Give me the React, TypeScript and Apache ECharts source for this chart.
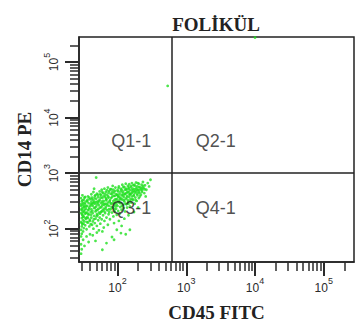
import React, { useEffect, useRef } from "react";
import * as echarts from "echarts";

// Axis ranges in log10 units (biexponential-like display window)
const cd45Range: [number, number] = [1.44, 5.44];
const cd14Range: [number, number] = [1.4, 5.45];

// Decade exponents shown as tick labels
const xDecades = [2, 3, 4, 5];
const yDecades = [2, 3, 4, 5];
const minorDecades = [1, 2, 3, 4, 5];
const minorMultipliers = [2, 3, 4, 5, 6, 7, 8, 9];

// Quadrant gates (log10 units)
const gateCD45 = 2.79;
const gateCD14 = 3;

const quadrantLabels = ["Q1-1", "Q2-1", "Q3-1", "Q4-1"];
const quadrantLabelX = [2.2, 3.43, 2.2, 3.43];
const quadrantLabelY = [3.58, 3.58, 2.37, 2.37];

// Events: [log10 CD45 FITC, log10 CD14 PE]
const events: [number, number][] = [
  [1.47, 2.55], [1.47, 2.41], [1.47, 2.28], [1.47, 2.12], [1.47, 1.98], [1.47, 1.86],
  [1.48, 2.49], [1.48, 2.33], [1.48, 2.19], [1.48, 2.04], [1.48, 1.91], [1.49, 2.6],
  [1.49, 2.37], [1.49, 2.24], [1.49, 2.08], [1.5, 2.46], [1.5, 2.3], [1.5, 2.15],
  [1.5, 1.95], [1.51, 2.52], [1.51, 2.39], [1.51, 2.22], [1.51, 2.01], [1.52, 2.34],
  [1.52, 2.13], [1.53, 2.57], [1.53, 2.44], [1.53, 2.27], [1.53, 2.06], [1.54, 2.18],
  [1.54, 2.36], [1.55, 2.5], [1.55, 2.29], [1.55, 1.99], [1.56, 2.41], [1.56, 2.21],
  [1.57, 2.11], [1.57, 2.58], [1.57, 2.33], [1.58, 2.46], [1.58, 2.25], [1.59, 2.04],
  [1.59, 2.38], [1.6, 2.53], [1.6, 2.16], [1.61, 2.3], [1.61, 2.44],
  [1.47, 1.72], [1.48, 1.63], [1.5, 1.8], [1.52, 1.69], [1.47, 1.55], [1.55, 1.86],
  [1.58, 1.76], [1.6, 1.9],
  [1.62, 2.62], [1.62, 2.48], [1.62, 2.35], [1.62, 2.2], [1.63, 2.07], [1.63, 2.56],
  [1.64, 2.41], [1.64, 2.28], [1.64, 2.13], [1.65, 2.66], [1.65, 2.51], [1.65, 2.0],
  [1.66, 2.37], [1.66, 2.23], [1.67, 2.59], [1.67, 2.45], [1.67, 2.1], [1.68, 2.31],
  [1.68, 2.18], [1.69, 2.54], [1.69, 2.4], [1.7, 2.63], [1.7, 2.26], [1.7, 2.05],
  [1.71, 2.49], [1.71, 2.34], [1.72, 2.15], [1.72, 2.57], [1.73, 2.42], [1.73, 2.29],
  [1.74, 2.67], [1.74, 2.52], [1.74, 2.2], [1.75, 2.38], [1.75, 2.09], [1.76, 2.6],
  [1.76, 2.46],
  [1.64, 1.88], [1.7, 1.93], [1.68, 1.78], [1.73, 1.97], [1.66, 2.72],
  [1.77, 2.31], [1.77, 2.7], [1.77, 2.17], [1.78, 2.55], [1.78, 2.42], [1.79, 2.24],
  [1.79, 2.64], [1.8, 2.5], [1.8, 2.36], [1.81, 2.72], [1.81, 2.14], [1.82, 2.58],
  [1.82, 2.45], [1.82, 2.28], [1.83, 2.66], [1.83, 2.39], [1.84, 2.53], [1.84, 2.2],
  [1.85, 2.61], [1.85, 2.33], [1.86, 2.47], [1.86, 2.74], [1.87, 2.26], [1.87, 2.56],
  [1.88, 2.41], [1.88, 2.68], [1.89, 2.17], [1.89, 2.51], [1.9, 2.35], [1.9, 2.63],
  [1.8, 2.02], [1.86, 2.07], [1.78, 1.95], [1.84, 1.74], [1.92, 1.85],
  [1.91, 2.45], [1.91, 2.71], [1.92, 2.29], [1.92, 2.57], [1.93, 2.77], [1.93, 2.38],
  [1.94, 2.5], [1.94, 2.22], [1.95, 2.65], [1.95, 2.43], [1.96, 2.31], [1.96, 2.59],
  [1.97, 2.74], [1.97, 2.47], [1.98, 2.36], [1.98, 2.62], [1.99, 2.25], [1.99, 2.53],
  [2.0, 2.69], [2.0, 2.41], [2.01, 2.57], [2.01, 2.32], [2.02, 2.76], [2.02, 2.48],
  [2.03, 2.63], [2.03, 2.27], [2.04, 2.39], [2.04, 2.55],
  [1.95, 2.1], [2.02, 2.14], [1.99, 1.98], [2.06, 2.05],
  [2.05, 2.72], [2.05, 2.46], [2.06, 2.6], [2.06, 2.34], [2.07, 2.79], [2.07, 2.52],
  [2.08, 2.43], [2.08, 2.67], [2.09, 2.57], [2.09, 2.37], [2.1, 2.75], [2.1, 2.49],
  [2.11, 2.63], [2.11, 2.31], [2.12, 2.54], [2.12, 2.81], [2.13, 2.44], [2.13, 2.7],
  [2.14, 2.59], [2.14, 2.38], [2.15, 2.77], [2.15, 2.51], [2.16, 2.66], [2.16, 2.45],
  [2.17, 2.57], [2.17, 2.8], [2.18, 2.4], [2.18, 2.69], [2.19, 2.53], [2.19, 2.62],
  [2.1, 2.18], [2.16, 2.24], [2.12, 1.9],
  [2.2, 2.74], [2.2, 2.47], [2.21, 2.82], [2.21, 2.58], [2.22, 2.66], [2.23, 2.52],
  [2.23, 2.78], [2.24, 2.61], [2.25, 2.71], [2.25, 2.45], [2.26, 2.56], [2.27, 2.83],
  [2.27, 2.67], [2.28, 2.5], [2.29, 2.76], [2.29, 2.6], [2.3, 2.7], [2.31, 2.55],
  [2.31, 2.81], [2.32, 2.64], [2.33, 2.74],
  [2.24, 2.3], [2.3, 2.38],
  [2.34, 2.61], [2.35, 2.79], [2.36, 2.69], [2.37, 2.84], [2.38, 2.73], [2.39, 2.64],
  [2.4, 2.78], [2.42, 2.7], [2.44, 2.82], [2.46, 2.76],
  [2.48, 2.88], [2.41, 2.58],
  [1.475, 2.35], [1.485, 2.26], [1.495, 2.43], [1.505, 2.09], [1.515, 2.31], [1.525, 2.47],
  [1.535, 2.19], [1.545, 2.4], [1.555, 2.12], [1.565, 2.52], [1.575, 2.27], [1.585, 2.35],
  [1.595, 2.14], [1.605, 2.41], [1.615, 2.25], [1.625, 2.53], [1.635, 2.32], [1.645, 2.46],
  [1.655, 2.17], [1.665, 2.55], [1.675, 2.38], [1.685, 2.48], [1.695, 2.22], [1.705, 2.44],
  [1.715, 2.61], [1.725, 2.36], [1.735, 2.5], [1.745, 2.27], [1.755, 2.56], [1.765, 2.39],
  [1.775, 2.49], [1.785, 2.33], [1.795, 2.58], [1.805, 2.43], [1.815, 2.62], [1.825, 2.36],
  [1.835, 2.51], [1.845, 2.69], [1.855, 2.42], [1.865, 2.58], [1.875, 2.35], [1.885, 2.49],
  [1.895, 2.71], [1.905, 2.55], [1.915, 2.39], [1.925, 2.66], [1.935, 2.46], [1.945, 2.59],
  [1.955, 2.35], [1.965, 2.68], [1.975, 2.53], [1.985, 2.44], [1.995, 2.61], [2.005, 2.49],
  [2.015, 2.73], [2.025, 2.58], [2.035, 2.46], [2.045, 2.67], [2.055, 2.54], [2.065, 2.41],
  [2.075, 2.64], [2.085, 2.75], [2.095, 2.51], [2.105, 2.62], [2.115, 2.45], [2.125, 2.72],
  [2.135, 2.56], [2.145, 2.66], [2.155, 2.48], [2.165, 2.74], [2.175, 2.61], [2.185, 2.5],
  [2.195, 2.77], [2.205, 2.64], [2.215, 2.53], [2.225, 2.72], [2.235, 2.59], [2.245, 2.79],
  [2.255, 2.65], [2.265, 2.51], [2.275, 2.73], [2.285, 2.63], [2.295, 2.82], [2.305, 2.66],
  [2.315, 2.75], [2.325, 2.58], [2.345, 2.71], [2.355, 2.66], [2.375, 2.77], [2.395, 2.71],
  [1.47, 2.44], [1.48, 2.1], [1.49, 2.51], [1.5, 2.21], [1.52, 2.56], [1.52, 2.4],
  [1.54, 2.28], [1.56, 2.49], [1.57, 2.19], [1.59, 2.56], [1.61, 2.08], [1.63, 2.44],
  [1.66, 2.48], [1.68, 2.6], [1.69, 2.33], [1.71, 2.24], [1.72, 2.47], [1.75, 2.62],
  [1.76, 2.3], [1.78, 2.66], [1.79, 2.46], [1.81, 2.31], [1.83, 2.55], [1.84, 2.44],
  [1.87, 2.65], [1.88, 2.3], [1.9, 2.46], [1.92, 2.62], [1.94, 2.7], [1.96, 2.52],
  [1.97, 2.4], [2.0, 2.6], [2.01, 2.67], [2.03, 2.52], [2.06, 2.7], [2.08, 2.6],
  [2.11, 2.7], [2.13, 2.64], [2.16, 2.72], [2.18, 2.63], [2.21, 2.69], [2.24, 2.68],
  [2.26, 2.77], [2.28, 2.7], [2.32, 2.69], [2.36, 2.74],
  [1.95, 1.8], [2.05, 1.92], [1.78, 1.62], [2.18, 1.98],
  [1.69, 2.92], [4.0, 5.44], [2.73, 4.57],
];

const TICK = "#2b2b2b";
const INK = "#222222";

function minorTicks(range: [number, number]): number[] {
  const out: number[] = [];
  minorDecades.forEach((d) => {
    minorMultipliers.forEach((k) => {
      const v = Math.log10(k) + d;
      if (v > range[0] + 0.005 && v < range[1] - 0.005) out.push(v);
    });
  });
  return out;
}

const richLabel = {
  b: {
    fontSize: 12,
    fontFamily: "Liberation Sans",
    color: TICK,
    lineHeight: 18,
    verticalAlign: "bottom",
  },
  s: {
    fontSize: 9,
    fontFamily: "Liberation Sans",
    color: TICK,
    verticalAlign: "top",
  },
};

const fmt = (v: number) => `{b|10}{s|${Math.round(v)}}`;

export default function App() {
  const ref = useRef<HTMLDivElement>(null);
  useEffect(() => {
    if (!ref.current) return;
    const chart = echarts.init(ref.current, undefined, { renderer: "svg" });
    const nameStyle = {
      fontFamily: "Liberation Serif",
      fontWeight: "bold" as const,
      fontSize: 19,
      color: INK,
    };
    const option: any = {
      animation: false,
      backgroundColor: "#ffffff",
      grid: {
        left: 79,
        top: 37,
        right: 2,
        bottom: 70,
        show: true,
        borderColor: INK,
        borderWidth: 1.5,
        backgroundColor: "transparent",
      },
      graphic: [
        {
          type: "text",
          x: 216,
          y: 24,
          style: {
            text: "FOLİKÜL",
            font: 'bold 19px "Liberation Serif"',
            fill: INK,
            textAlign: "center",
            textVerticalAlign: "middle",
            align: "center",
            verticalAlign: "middle",
          },
        },
      ],
      xAxis: [
        {
          type: "value",
          min: cd45Range[0],
          max: cd45Range[1],
          position: "bottom",
          name: "CD45 FITC",
          nameLocation: "middle",
          nameGap: 41,
          nameTextStyle: nameStyle,
          axisLine: { show: true, lineStyle: { color: INK, width: 1.5 } },
          axisTick: {
            show: true,
            customValues: xDecades,
            length: 14,
            lineStyle: { color: TICK, width: 2 },
          },
          axisLabel: {
            customValues: xDecades,
            formatter: fmt,
            rich: richLabel,
            margin: 14,
          },
          splitLine: { show: false },
        },
        {
          type: "value",
          min: cd45Range[0],
          max: cd45Range[1],
          position: "bottom",
          axisLine: { show: false },
          axisTick: {
            show: true,
            customValues: minorTicks(cd45Range),
            length: 9,
            lineStyle: { color: TICK, width: 1.5 },
          },
          axisLabel: { show: false },
          splitLine: { show: false },
        },
      ],
      yAxis: [
        {
          type: "value",
          min: cd14Range[0],
          max: cd14Range[1],
          position: "left",
          name: "CD14 PE",
          nameLocation: "middle",
          nameGap: 44,
          nameTextStyle: nameStyle,
          axisLine: { show: true, lineStyle: { color: INK, width: 1.5 } },
          axisTick: {
            show: true,
            customValues: yDecades,
            length: 14,
            lineStyle: { color: TICK, width: 2 },
          },
          axisLabel: {
            customValues: yDecades,
            formatter: fmt,
            rich: richLabel,
            rotate: 90,
            margin: 19,
          },
          splitLine: { show: false },
        },
        {
          type: "value",
          min: cd14Range[0],
          max: cd14Range[1],
          position: "left",
          axisLine: { show: false },
          axisTick: {
            show: true,
            customValues: minorTicks(cd14Range),
            length: 9,
            lineStyle: { color: TICK, width: 1.5 },
          },
          axisLabel: { show: false },
          splitLine: { show: false },
        },
      ],
      series: [
        {
          type: "scatter",
          xAxisIndex: 0,
          yAxisIndex: 0,
          data: events,
          symbol: "circle",
          symbolSize: 2.8,
          itemStyle: { color: "#1fe01f" },
          silent: true,
          markLine: {
            silent: true,
            symbol: "none",
            label: { show: false },
            lineStyle: { color: INK, width: 1.5, type: "solid" },
            data: [{ xAxis: gateCD45 }, { yAxis: gateCD14 }],
          },
        },
        {
          type: "scatter",
          xAxisIndex: 0,
          yAxisIndex: 0,
          symbolSize: 0,
          silent: true,
          data: quadrantLabels.map((n, i) => ({
            name: n,
            value: [quadrantLabelX[i], quadrantLabelY[i]],
          })),
          label: {
            show: true,
            position: "inside",
            formatter: "{b}",
            fontFamily: "Liberation Sans",
            fontSize: 18,
            color: "#222222",
          },
          z: 5,
        },
      ],
    };
    chart.setOption(option);
    return () => chart.dispose();
  }, []);
  return (
    <div
      ref={ref}
      style={{ position: "fixed", left: 0, top: 0, width: 356, height: 332 }}
    />
  );
}
